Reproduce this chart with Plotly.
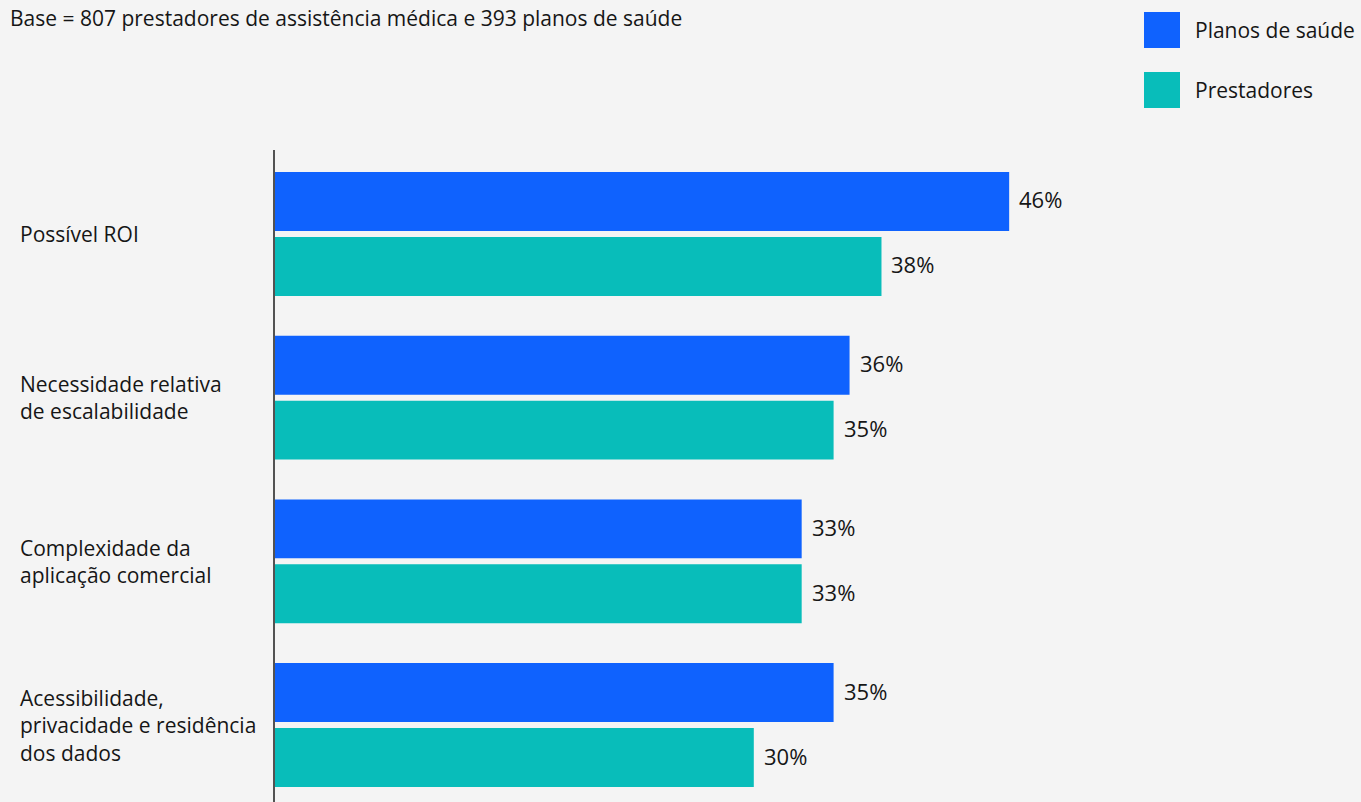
import plotly.graph_objects as go

categories = ["Possível ROI",
              "Necessidade relativa<br>de escalabilidade",
              "Complexidade da<br>aplicação comercial",
              "Acessibilidade,<br>privacidade e residência<br>dos dados"]
planos = [46, 36, 33, 35]
prestadores = [38, 35, 33, 30]
series_names = ["Planos de saúde", "Prestadores"]
colors = ["#0f62fe", "#08bdba"]
title_text = "Base = 807 prestadores de assistência médica e 393 planos de saúde"

FONT = "Open Sans"
TXT = "#161616"
BG = "#f4f4f4"

pos = list(range(len(categories)))
bar_w = 0.36
offsets = [-0.3785, 0.0183]

fig = go.Figure()
for vals, name, col, off in zip([planos, prestadores], series_names, colors, offsets):
    fig.add_trace(go.Bar(
        x=vals, y=pos, orientation="h", name=name,
        marker=dict(color=col, line=dict(width=0)),
        width=bar_w, offset=off, showlegend=False,
    ))

annotations = []
for vals, off in zip([planos, prestadores], offsets):
    for p, v in zip(pos, vals):
        annotations.append(dict(
            x=v, y=p + off + bar_w / 2, xref="x", yref="y",
            text=f"{v}%", showarrow=False, xanchor="left", yanchor="middle",
            xshift=8, yshift=2, font=dict(family=FONT, size=22, color=TXT)))

PH = 652
plot_w = 1361 - 275
for p, c in zip(pos, categories):
    annotations.append(dict(
        x=(18 - 275) / plot_w, y=p, xref="paper", yref="y",
        text=c, showarrow=False, xanchor="left", yanchor="middle", align="left",
        font=dict(family=FONT, size=21, color=TXT)))

annotations.append(dict(
    x=(8 - 275) / plot_w, y=(802 - 18) / PH, xref="paper", yref="paper",
    text=title_text, showarrow=False, xanchor="left", yanchor="middle",
    font=dict(family=FONT, size=21, color=TXT)))

# legend drawn manually
shapes = []
legend_y = [30, 90]
for name, col, ly in zip(series_names, colors, legend_y):
    shapes.append(dict(type="rect", xref="paper", yref="paper",
                       x0=(1144 - 275) / plot_w, x1=(1180 - 275) / plot_w,
                       y0=(802 - (ly + 18)) / PH,
                       y1=(802 - (ly - 18)) / PH,
                       fillcolor=col, line=dict(width=0)))
    annotations.append(dict(
        x=(1193 - 275) / plot_w, y=(802 - ly) / PH, xref="paper", yref="paper",
        text=name, showarrow=False, xanchor="left", yanchor="middle",
        font=dict(family=FONT, size=21, color=TXT)))

fig.update_layout(
    width=1361, height=802,
    margin=dict(l=275, r=0, t=150, b=0),
    paper_bgcolor=BG, plot_bgcolor=BG,
    xaxis=dict(range=[0, plot_w / 15.96], visible=False, showgrid=False, zeroline=False),
    yaxis=dict(range=[3.47, -0.513], showticklabels=False, showgrid=False, zeroline=False,
               showline=True, linecolor="#525252", linewidth=2, ticks=""),
    annotations=annotations, shapes=shapes, showlegend=False,
    font=dict(family=FONT, color=TXT),
)

fig.write_html("out.html")
